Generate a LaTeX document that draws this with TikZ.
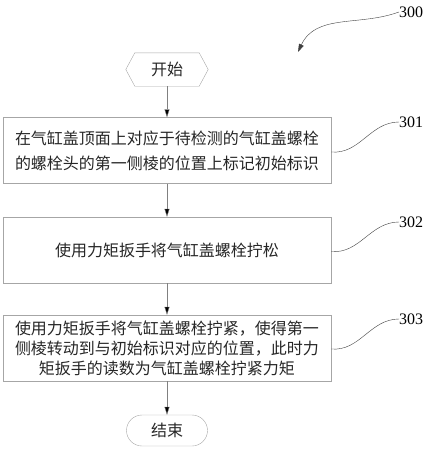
\documentclass[tikz,border=0pt]{standalone}
\usepackage{fontspec}
\setmainfont{Liberation Serif}
\newfontfamily\cjk{Noto Sans CJK SC}
\usetikzlibrary{positioning}
\usetikzlibrary{arrows.meta}

\begin{document}
\begin{tikzpicture}[x=1pt,y=-1pt,
  stepbox/.style={draw=gray!70,minimum width=328pt,minimum height=66pt,inner sep=0pt,
    align=center,text=black!85,font=\cjk\fontsize{16}{20}\selectfont},
  flow/.style={draw=gray,-{Triangle[length=8pt,width=5pt,fill=black]}},
  lead/.style={draw=black!75},
  num/.style={anchor=west,inner sep=0pt,font=\fontsize{16}{16}\selectfont}]
\useasboundingbox (0,0) rectangle (428,450);
% start and end
\node[minimum width=82pt,minimum height=33pt,inner sep=0pt,text=black!85,
  font=\cjk\fontsize{16}{16}\selectfont] (start) at (167,69.5) {开始};
\draw[gray!70] (start.west) -- ([xshift=9pt]start.north west) -- ([xshift=-9pt]start.north east)
  -- (start.east) -- ([xshift=-9pt]start.south east) -- ([xshift=9pt]start.south west) -- cycle;
\node[draw=gray!70,rounded corners=15.5pt,minimum width=81pt,minimum height=31pt,inner sep=0pt,
  text=black!85,font=\cjk\fontsize{16}{16}\selectfont] (end) at (167,430.5) {结束};
% steps
\node[stepbox] (s301) at (167,150.5) {在气缸盖顶面上对应于待检测的气缸盖螺栓\\[5pt]的螺栓头的第一侧棱的位置上标记初始标识};
\node[stepbox] (s302) at (167,250) {使用力矩扳手将气缸盖螺栓拧松};
\node[stepbox] (s303) at (167,348) {使用力矩扳手将气缸盖螺栓拧紧，使得第一\\侧棱转动到与初始标识对应的位置，此时力\\矩扳手的读数为气缸盖螺栓拧紧力矩};
% arrows
\draw[flow] (start.south) -- (s301.north);
\draw[flow] (s301.south) -- (s302.north);
\draw[flow] (s302.south) -- (s303.north);
\draw[flow] (s303.south) -- (end.north);
% reference numbers
\node[num] (n300) at (399,12) {300};
\node[num] (n301) at (399,122) {301};
\node[num] (n302) at (399,222) {302};
\node[num] (n303) at (399,319) {303};
\coordinate (tip300) at (298,52);
\draw[lead,-{Triangle[length=8pt,width=5pt]}] (n300.west) to[out=200,in=65] (tip300);
\draw[lead] ([yshift=-1.5pt]s301.east) to[out=-5,in=180] (n301.west);
\draw[lead] ([yshift=-1.5pt]s302.east) to[out=-5,in=180] (n302.west);
\draw[lead] ([yshift=-1pt]s303.east) to[out=-5,in=180] (n303.west);
\end{tikzpicture}
\end{document}
